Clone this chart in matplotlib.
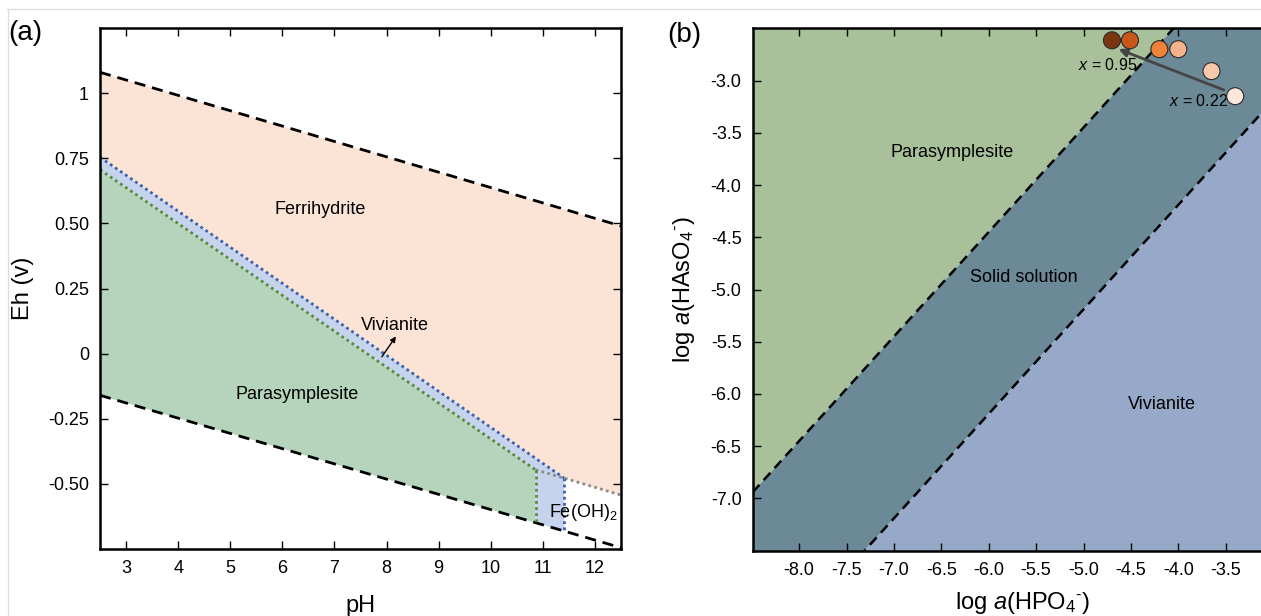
import matplotlib.pyplot as plt
import numpy as np
from matplotlib.lines import Line2D

plt.rcParams['font.family'] = ['Liberation Sans', 'DejaVu Sans']
plt.rcParams['mathtext.fontset'] = 'custom'
plt.rcParams['mathtext.rm'] = 'Liberation Sans'
plt.rcParams['mathtext.it'] = 'Liberation Sans:italic'
plt.rcParams['axes.unicode_minus'] = False

# ---- (a) Eh-pH diagram ----
ph_lim = [2.5, 12.5]
eh_lim = [-0.75, 1.25]
ph_ticks = [3, 4, 5, 6, 7, 8, 9, 10, 11, 12]
eh_ticks = [1, 0.75, 0.5, 0.25, 0, -0.25, -0.5]
eh_ticklabels = ['1', '0.75', '0.50', '0.25', '0', '-0.25', '-0.50']

# water stability limits (dashed)
ph_water = [2.5, 12.5]
eh_upper = [1.08, 0.49]
eh_lower = [-0.16, -0.745]
# vivianite upper boundary (blue dotted)
ph_viv = [2.5, 11.41]
eh_viv = [0.754, -0.478]
# parasymplesite upper boundary (green dotted)
ph_para = [2.5, 10.86]
eh_para = [0.706, -0.446]
# Fe(OH)2 boundary (grey dotted)
ph_feoh = [10.86, 11.41, 12.5]
eh_feoh = [-0.446, -0.478, -0.543]

# ---- (b) activity diagram ----
hpo_lim = [-8.49, -2.79]
has_lim = [-7.5, -2.5]
hpo_ticks = [-8.0, -7.5, -7.0, -6.5, -6.0, -5.5, -5.0, -4.5, -4.0, -3.5]
has_ticks = [-3.0, -3.5, -4.0, -4.5, -5.0, -5.5, -6.0, -6.5, -7.0]
line_x = [-8.49, -2.79]
para_ss_y = [-6.94, -1.24]
ss_viv_y = [-8.68, -2.98]

pt_hpo = [-4.70, -4.51, -4.20, -4.00, -3.65, -3.40]
pt_has = [-2.615, -2.615, -2.70, -2.70, -2.91, -3.15]
pt_colors = ['#7b3510', '#c8581a', '#f08238', '#f5b38c', '#f8c8aa', '#fde7db']

c_peach = '#fbe3d5'
c_vblue = '#c5d3ec'
c_pgreen = '#b5d4bb'
c_green_b = '#a9c19b'
c_ss = '#6b8997'
c_viv_b = '#96a9c9'

fig = plt.figure(figsize=(12.61, 6.16), dpi=100)

# light frame lines
fig.add_artist(Line2D([7 / 1261, 1], [1 - 9.3 / 616] * 2, transform=fig.transFigure,
                      color='#dddddd', lw=0.9))
fig.add_artist(Line2D([8.3 / 1261] * 2, [0, 1 - 9.3 / 616], transform=fig.transFigure,
                      color='#dddddd', lw=0.9))

ax1 = fig.add_axes([100 / 1261, 1 - 549 / 616, 521 / 1261, 521 / 616])
ax2 = fig.add_axes([752.7 / 1261, 1 - 550.7 / 616, 540.3 / 1261, 522.4 / 616])

# fills for (a)
h_para = np.interp(ph_para[1], ph_water, eh_lower)
h_viv = np.interp(ph_viv[1], ph_water, eh_lower)
ax1.fill([ph_para[0], ph_para[1], ph_para[1], ph_water[0]],
         [eh_para[0], eh_para[1], h_para, eh_lower[0]], color=c_pgreen, lw=0)
ax1.fill([ph_viv[0], ph_viv[1], ph_viv[1], ph_para[1], ph_para[1], ph_para[0]],
         [eh_viv[0], eh_viv[1], h_viv, h_para, eh_para[1], eh_para[0]], color=c_vblue, lw=0)
ax1.fill([ph_water[0], ph_water[1], ph_feoh[2], ph_feoh[1], ph_viv[0]],
         [eh_upper[0], eh_upper[1], eh_feoh[2], eh_feoh[1], eh_viv[0]], color=c_peach, lw=0)

dash = (0, (4, 2.5))
dot = (0, (1, 1.2))
ax1.plot(ph_water, eh_upper, color='black', lw=2, ls=dash)
ax1.plot(ph_water, eh_lower, color='black', lw=2, ls=dash)
ax1.plot(ph_viv, eh_viv, color='#3a62b0', lw=2, ls=dot)
ax1.plot(ph_para, eh_para, color='#5a8a3c', lw=2, ls=dot)
ax1.plot(ph_feoh, eh_feoh, color='#8c8c8c', lw=2, ls=dot)
ax1.plot([ph_para[1]] * 2, [eh_para[1], h_para], color='#5a8a3c', lw=2, ls=dot)
ax1.plot([ph_viv[1]] * 2, [eh_viv[1], h_viv], color='#3a62b0', lw=2, ls=dot)

ax1.text(6.73, 0.553, 'Ferrihydrite', fontsize=13, ha='center', va='center')
ax1.text(8.17, 0.109, 'Vivianite', fontsize=13, ha='center', va='center')
ax1.text(6.29, -0.157, 'Parasymplesite', fontsize=13, ha='center', va='center')
ax1.text(11.78, -0.608, 'Fe(OH)$_2$', fontsize=13, ha='center', va='center')
ax1.annotate('', xy=(8.18, 0.066), xytext=(7.91, -0.012),
             arrowprops=dict(arrowstyle='-|>', color='black', lw=1, mutation_scale=8,
                             shrinkA=0, shrinkB=0))

ax1.set_xlim(ph_lim)
ax1.set_ylim(eh_lim)
ax1.set_xticks(ph_ticks)
ax1.set_yticks(eh_ticks)
ax1.set_yticklabels(eh_ticklabels)
ax1.set_xlabel('pH', fontsize=17, labelpad=13)
ax1.set_ylabel('Eh (v)', fontsize=17, labelpad=10)

# fills for (b)
ax2.fill_between(line_x, para_ss_y, has_lim[1] + 5, color=c_green_b, lw=0)
ax2.fill_between(line_x, ss_viv_y, para_ss_y, color=c_ss, lw=0)
ax2.fill_between(line_x, has_lim[0] - 5, ss_viv_y, color=c_viv_b, lw=0)
ax2.plot(line_x, para_ss_y, color='black', lw=1.8, ls=dash)
ax2.plot(line_x, ss_viv_y, color='black', lw=1.8, ls=dash)

ax2.scatter(pt_hpo, pt_has, s=150, c=pt_colors, edgecolors='#2a2a2a', linewidths=0.8,
            zorder=5, clip_on=False)
ax2.annotate('', xy=(pt_hpo[0] + 0.07, pt_has[0] - 0.085), xytext=(pt_hpo[5] - 0.12, pt_has[5] + 0.06),
             arrowprops=dict(arrowstyle='-|>', color='#454545', lw=2, mutation_scale=12,
                             shrinkA=0, shrinkB=0), zorder=4)
ax2.text(-4.75, -2.85, '$\\mathit{x}$ = 0.95', fontsize=11.5, ha='center', va='center')
ax2.text(-3.79, -3.20, '$\\mathit{x}$ = 0.22', fontsize=11.5, ha='center', va='center')

ax2.text(-6.39, -3.69, 'Parasymplesite', fontsize=13, ha='center', va='center')
ax2.text(-5.63, -4.885, 'Solid solution', fontsize=13, ha='center', va='center')
ax2.text(-4.17, -6.10, 'Vivianite', fontsize=13, ha='center', va='center')

ax2.set_xlim(hpo_lim)
ax2.set_ylim(has_lim)
ax2.set_xticks(hpo_ticks)
ax2.set_yticks(has_ticks)
ax2.set_xticklabels(['%.1f' % v for v in hpo_ticks])
ax2.set_yticklabels(['%.1f' % v for v in has_ticks])
ax2.set_xlabel('log $\\mathit{a}$(HPO$_4$$^{\\text{-}}$)', fontsize=17)
ax2.set_ylabel('log $\\mathit{a}$(HAsO$_4$$^{\\text{-}}$)', fontsize=17, labelpad=10)
ax2.xaxis.set_label_coords((1023 - 752.7) / 540.3, (550.7 - 590) / 522.4)

for ax in (ax1, ax2):
    for s in ax.spines.values():
        s.set_linewidth(1.8)
    ax.tick_params(direction='in', length=6, width=1, labelsize=13, pad=8,
                   top=True, right=True)

fig.text(25 / 1261, 1 - 33 / 616, '(a)', fontsize=20, ha='center', va='center')
fig.text(684 / 1261, 1 - 35 / 616, '(b)', fontsize=20, ha='center', va='center')

fig.savefig('out.png', dpi=100)
